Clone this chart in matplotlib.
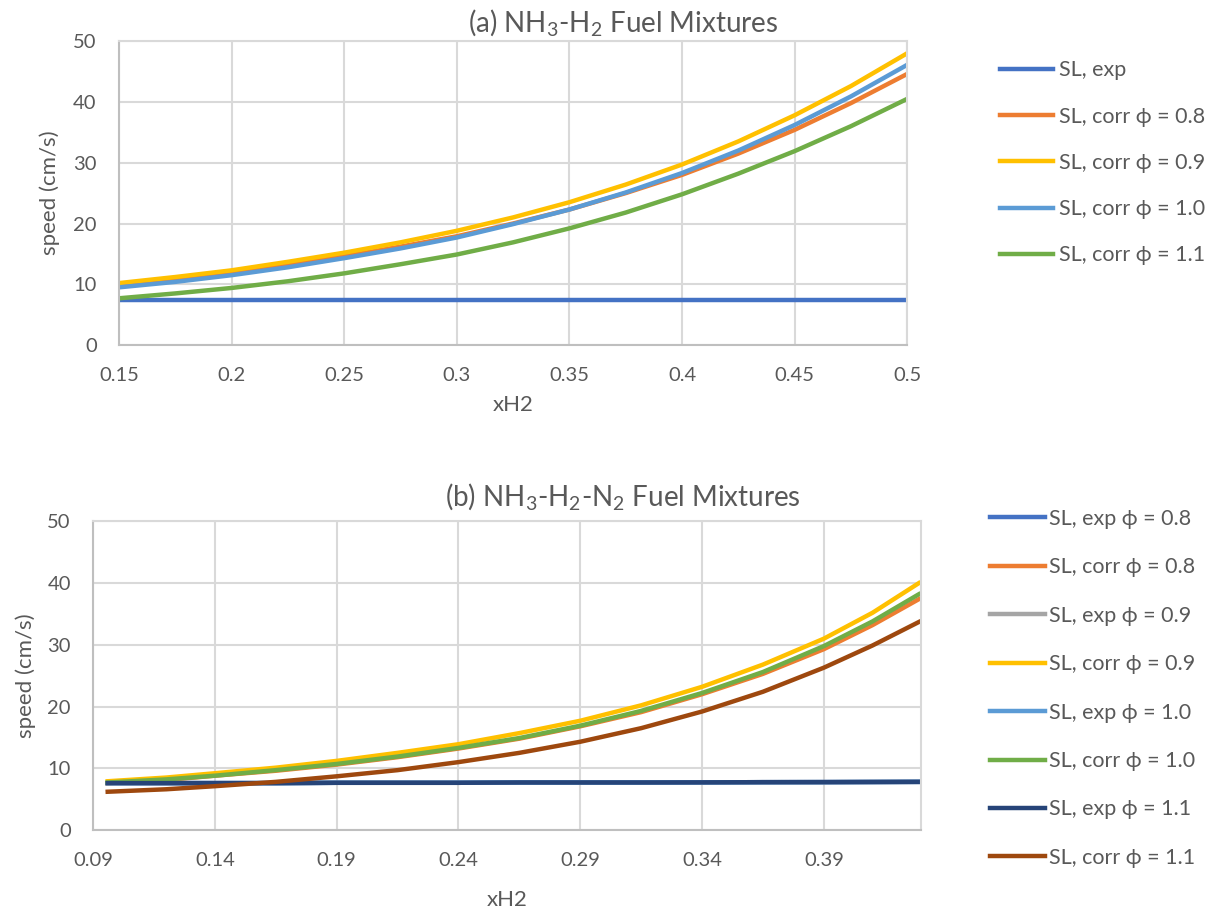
import numpy as np
import matplotlib.pyplot as plt

plt.rcParams['font.family'] = ['Lato', 'DejaVu Sans']
plt.rcParams['mathtext.fontset'] = 'custom'
plt.rcParams['mathtext.rm'] = 'Lato'

# (a) NH3-H2
xa = [0.15, 0.175, 0.2, 0.225, 0.25, 0.275, 0.3, 0.325, 0.35, 0.375, 0.4, 0.425, 0.45, 0.475, 0.5]
a_exp = [7.5] * 15
a_c08 = [9.8, 10.7, 11.8, 13.1, 14.6, 16.2, 17.9, 20.0, 22.3, 25.0, 28.0, 31.5, 35.4, 39.8, 44.6]
a_c09 = [10.2, 11.2, 12.3, 13.7, 15.2, 16.9, 18.8, 21.0, 23.5, 26.4, 29.7, 33.5, 37.8, 42.6, 48.0]
a_c10 = [9.5, 10.4, 11.5, 12.8, 14.3, 15.9, 17.7, 19.9, 22.3, 25.1, 28.3, 32.0, 36.2, 40.9, 46.1]
a_c11 = [7.7, 8.5, 9.4, 10.5, 11.8, 13.3, 14.9, 16.9, 19.2, 21.8, 24.8, 28.2, 31.9, 36.0, 40.5]

# (b) NH3-H2-N2
xb = [0.096, 0.12, 0.14, 0.165, 0.19, 0.215, 0.24, 0.265, 0.29, 0.315, 0.34, 0.365, 0.39, 0.41, 0.429]
b_exp = [7.6, 7.6, 7.6, 7.6, 7.65, 7.65, 7.65, 7.7, 7.7, 7.7, 7.72, 7.75, 7.76, 7.78, 7.8]
b_c08 = [7.6, 8.1, 8.8, 9.6, 10.6, 11.8, 13.2, 14.8, 16.8, 19.1, 22.0, 25.3, 29.3, 33.2, 37.4]
b_c09 = [7.9, 8.5, 9.2, 10.1, 11.2, 12.5, 13.9, 15.7, 17.7, 20.2, 23.2, 26.8, 31.0, 35.2, 40.0]
b_c10 = [7.7, 8.2, 8.8, 9.7, 10.7, 11.9, 13.3, 14.9, 16.9, 19.3, 22.2, 25.6, 29.8, 33.8, 38.2]
b_c11 = [6.2, 6.6, 7.1, 7.8, 8.7, 9.7, 11.0, 12.5, 14.3, 16.5, 19.2, 22.4, 26.3, 29.9, 33.7]

txt = '#595959'
grid = '#d9d9d9'
lw = 3.2

def style(ax):
    ax.set_facecolor('white')
    ax.grid(True, color=grid, linewidth=1.5)
    ax.set_axisbelow(True)
    for s in ['top', 'right']:
        ax.spines[s].set_color(grid)
        ax.spines[s].set_linewidth(1.5)
    for s in ['left', 'bottom']:
        ax.spines[s].set_color('#bfbfbf')
        ax.spines[s].set_linewidth(1.5)
    ax.tick_params(length=0, labelsize=14.5, colors=txt, pad=16)
    ax.set_ylim(0, 50)
    ax.set_yticks(range(0, 51, 10))
    ax.set_ylabel('speed (cm/s)', fontsize=16, color=txt)
    ax.set_xlabel('xH2', fontsize=16, color=txt)
    ax.yaxis.label.set_va('center')
    ax.xaxis.label.set_va('center')

fig = plt.figure(figsize=(12.09, 9.13), dpi=100)

ax1 = fig.add_axes([0.0984, 0.622, 0.652, 0.333])
ax1.plot(xa, a_exp, color='#4472C4', lw=lw, label='SL, exp')
ax1.plot(xa, a_c08, color='#ED7D31', lw=lw, label='SL, corr ϕ = 0.8')
ax1.plot(xa, a_c09, color='#FFC000', lw=lw, label='SL, corr ϕ = 0.9')
ax1.plot(xa, a_c10, color='#5B9BD5', lw=lw, label='SL, corr ϕ = 1.0')
ax1.plot(xa, a_c11, color='#70AD47', lw=lw, label='SL, corr ϕ = 1.1')
style(ax1)
ax1.set_xlim(0.15, 0.5)
xt = np.round(np.arange(0.15, 0.501, 0.05), 2)
ax1.set_xticks(xt)
ax1.set_xticklabels([f'{v:g}' for v in xt])
ax1.yaxis.set_label_coords(-0.0876, 0.5)
ax1.xaxis.set_label_coords(0.5, -0.197)
fig.text(0.515, 1 - 32 / 913, '(a) NH$_3$-H$_2$ Fuel Mixtures', fontsize=20, color=txt,
         ha='center', va='baseline')
fig.legend(*ax1.get_legend_handles_labels(), loc='upper left', bbox_to_anchor=(0.827, 0.934),
           frameon=False, fontsize=15.5, labelcolor=txt, handlelength=2.45,
           handletextpad=0.3, labelspacing=1.22, borderpad=0, borderaxespad=0)

ax2 = fig.add_axes([0.077, 0.0909, 0.685, 0.338])
ax2.plot(xb, b_exp, color='#4472C4', lw=lw, label='SL, exp ϕ = 0.8')
ax2.plot(xb, b_c08, color='#ED7D31', lw=lw, label='SL, corr ϕ = 0.8')
ax2.plot(xb, b_exp, color='#A5A5A5', lw=lw, label='SL, exp ϕ = 0.9')
ax2.plot(xb, b_c09, color='#FFC000', lw=lw, label='SL, corr ϕ = 0.9')
ax2.plot(xb, b_exp, color='#5B9BD5', lw=lw, label='SL, exp ϕ = 1.0')
ax2.plot(xb, b_c10, color='#70AD47', lw=lw, label='SL, corr ϕ = 1.0')
ax2.plot(xb, b_exp, color='#264478', lw=lw, label='SL, exp ϕ = 1.1')
ax2.plot(xb, b_c11, color='#9E480E', lw=lw, label='SL, corr ϕ = 1.1')
style(ax2)
ax2.set_xlim(0.09, 0.43)
xt2 = np.round(np.arange(0.09, 0.391, 0.05), 2)
ax2.set_xticks(xt2)
ax2.set_xticklabels([f'{v:.2f}' for v in xt2])
ax2.yaxis.set_label_coords(-0.081, 0.5)
ax2.xaxis.set_label_coords(0.5, -0.2265)
fig.text(0.515, 1 - 506 / 913, '(b) NH$_3$-H$_2$-N$_2$ Fuel Mixtures', fontsize=20, color=txt,
         ha='center', va='baseline')
fig.legend(*ax2.get_legend_handles_labels(), loc='upper left', bbox_to_anchor=(0.819, 0.4425),
           frameon=False, fontsize=15.5, labelcolor=txt, handlelength=2.55,
           handletextpad=0.2, labelspacing=1.32, borderpad=0, borderaxespad=0)

plt.savefig('out.png', dpi=100)
